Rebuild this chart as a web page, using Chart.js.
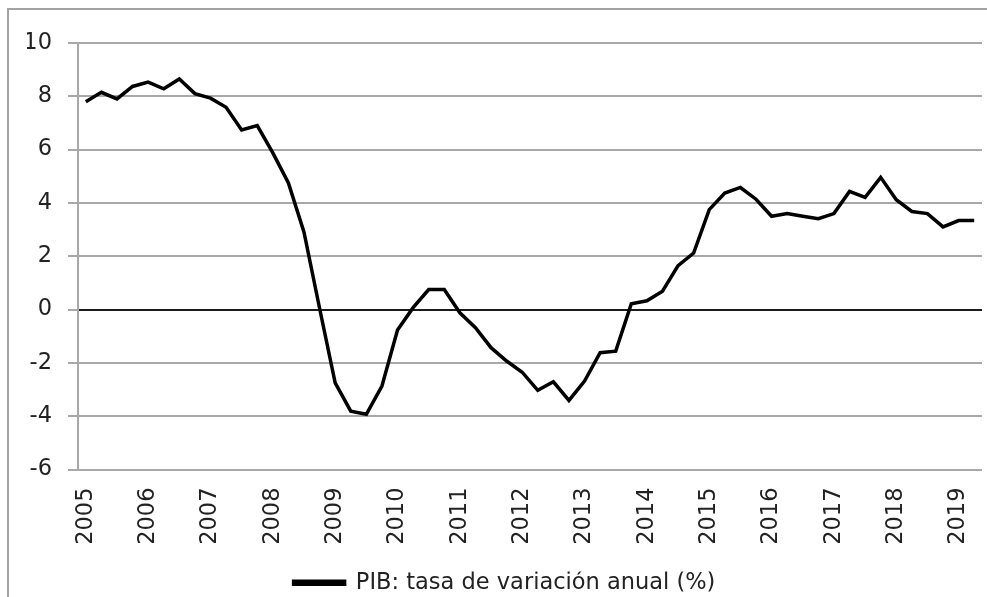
<!DOCTYPE html>
<html>
<head>
<meta charset="utf-8">
<script src="https://cdn.jsdelivr.net/npm/chart.js@4"></script>
<style>
  body { margin: 0; background: #fff; overflow: hidden; }
  #cadre { position: absolute; left: 7px; top: 8px; width: 990px; height: 600px;
           border-top: 2px solid #a3a3a3; border-left: 2px solid #a3a3a3; }
  #zone { position: absolute; left: 0; top: 0; width: 987px; height: 604px; }
</style>
</head>
<body>
<div id="cadre"></div>
<div id="zone"><canvas id="canv" width="987" height="604"></canvas></div>
<script>
// trimestres 2005T1 .. 2019T2
var trimestres = [
  '2005T1','2005T2','2005T3','2005T4','2006T1','2006T2','2006T3','2006T4',
  '2007T1','2007T2','2007T3','2007T4','2008T1','2008T2','2008T3','2008T4',
  '2009T1','2009T2','2009T3','2009T4','2010T1','2010T2','2010T3','2010T4',
  '2011T1','2011T2','2011T3','2011T4','2012T1','2012T2','2012T3','2012T4',
  '2013T1','2013T2','2013T3','2013T4','2014T1','2014T2','2014T3','2014T4',
  '2015T1','2015T2','2015T3','2015T4','2016T1','2016T2','2016T3','2016T4',
  '2017T1','2017T2','2017T3','2017T4','2018T1','2018T2','2018T3','2018T4',
  '2019T1','2019T2'
];
var pib = [
  7.8, 8.15, 7.9, 8.37,
  8.53, 8.28, 8.65, 8.1,
  7.93, 7.59, 6.74, 6.9,
  5.88, 4.75, 2.9, 0.05,
  -2.75, -3.81, -3.93, -2.87,
  -0.77, 0.07, 0.75, 0.75,
  -0.12, -0.68, -1.43, -1.93,
  -2.35, -3.03, -2.71, -3.41,
  -2.68, -1.62, -1.56, 0.22,
  0.33, 0.69, 1.65, 2.12,
  3.75, 4.37, 4.58, 4.14,
  3.5, 3.6, 3.5, 3.41,
  3.6, 4.43, 4.21, 4.96,
  4.12, 3.68, 3.6, 3.1,
  3.34, 3.34
];
var nomSerie = 'PIB: tasa de variación anual (%)';
var yMin = -6, yMax = 10, yPas = 2;

var police = { family: "'DejaVu Sans', Verdana, sans-serif", size: 22.5 };

var config_chart = {
  type: 'line',
  data: {
    labels: trimestres,
    datasets: [{
      label: nomSerie,
      data: pib,
      borderColor: '#000',
      backgroundColor: '#000',
      borderWidth: 3.5,
      pointRadius: 0,
      tension: 0
    }]
  },
  options: {
    responsive: false,
    animation: false,
    layout: { padding: { left: 27, right: 5, top: 43, bottom: 0 } },
    plugins: {
      tooltip: { enabled: false },
      legend: {
        position: 'bottom',
        labels: { boxWidth: 51, boxHeight: 3, padding: 0, color: '#222', font: police }
      }
    },
    scales: {
      x: {
        offset: true,
        grid: { display: false, drawTicks: false },
        border: { display: false },
        ticks: {
          autoSkip: false, maxRotation: 90, minRotation: 90, padding: 18,
          color: '#222', font: police,
          callback: function(v, i){ return i % 4 === 0 ? trimestres[i].slice(0, 4) : ''; }
        },
        // pas de marge ajoutée pour les étiquettes tournées
        afterFit: function(s){ s.height = 102; s.paddingLeft = 0; s.paddingRight = 0; }
      },
      y: {
        min: yMin, max: yMax,
        ticks: { stepSize: yPas, padding: 16, color: '#222', font: police },
        grid: {
          color: function(c){ return c.tick && c.tick.value === 0 ? '#1a1a1a' : '#a8a8a8'; },
          lineWidth: 2,
          tickLength: 10,
          tickColor: '#a8a8a8'
        },
        border: { color: '#a8a8a8', width: 2 },
        afterFit: function(s){ s.width = 51; }
      }
    }
  }
};

var myChart = new Chart(document.getElementById('canv'), config_chart);
</script>
</body>
</html>
